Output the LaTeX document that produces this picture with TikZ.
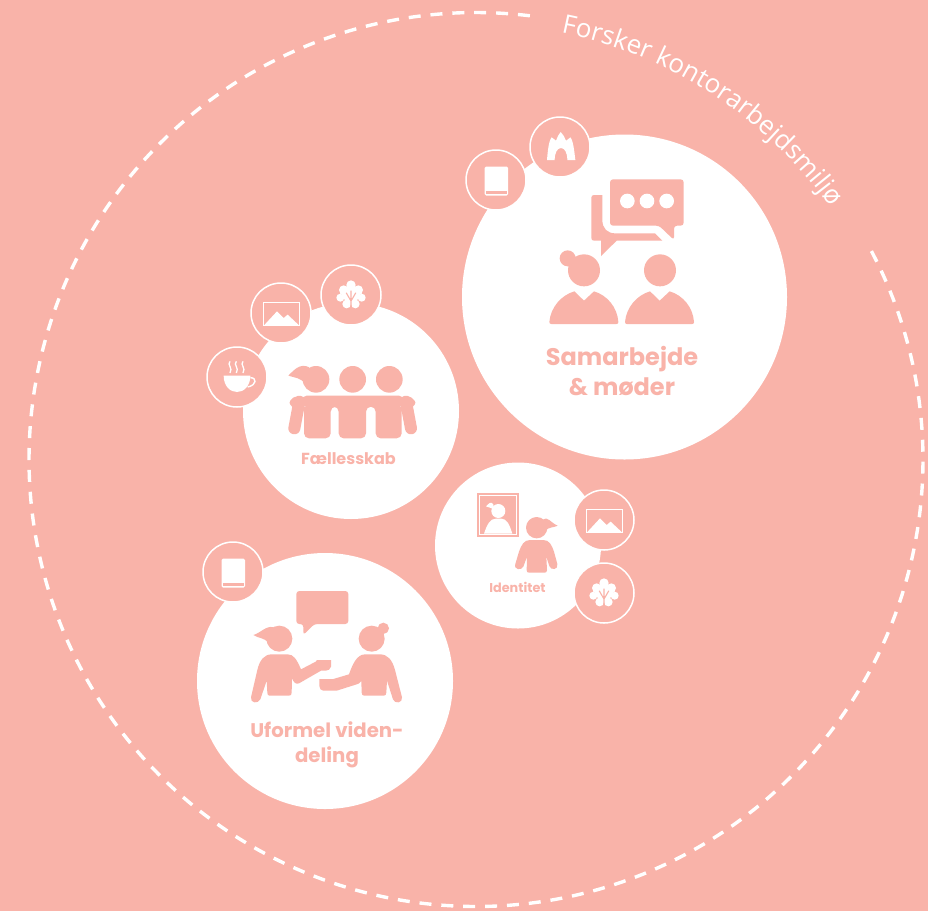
\documentclass[tikz,border=0pt]{standalone}
\usepackage{fontspec}
\usetikzlibrary{decorations.text}
\newfontfamily\labfont{Poppins}
\newfontfamily\ringfont{Open Sans}
\definecolor{peach}{HTML}{F9B3A9}
\tikzset{
  bigdisc/.style={fill=white},
  badge/.style={fill=peach,draw=white,line width=1.5pt},
  ink/.style={fill=peach},
  paper/.style={fill=white},
  lab/.style={font=\labfont\bfseries,text=peach,align=center,inner sep=0pt},
  bookicon/.pic={
    \fill[white,rounded corners=1.5pt] (-11.5,-13.5) rectangle (12,15.5);
    \fill[peach] (-10.5,11) rectangle (11,14.2);
  },
  imageicon/.pic={
    \begin{scope}[scale=1/3]
    \draw[white,line width=1.2pt] (-52,-32) rectangle (56,37);
    \fill[white] (-50,36)--(-12,-5)--(8,15)--(20,5)--(53,36)--cycle;
    \end{scope}
  },
  treeicon/.pic={
    \begin{scope}[scale=1/3]
    \fill[white] (0,-30) circle (14) (-22,-15) circle (14) (22,-15) circle (14)
       (-32,8) circle (12) (32,8) circle (12) (-13,27) circle (13) (13,27) circle (13) (0,0) circle (24);
    \draw[peach,line width=1.1pt,line cap=round] (0,42)--(0,-12) (0,18)--(-14,-6) (0,18)--(14,-6);
    \end{scope}
  },
}
\begin{document}
\begin{tikzpicture}[x=1pt,y=-1pt]
\useasboundingbox (0,0) rectangle (928,911);
\fill[peach] (0,0) rectangle (928,911);
% dashed ring
\draw[white,line width=3.4pt,dash pattern=on 12pt off 9.9pt] plot[domain=387.8:83,samples=240,smooth] ({476+447*cos(\x)},{459.5-447*sin(\x)});
\path[decorate,decoration={text along path,
  text={|\ringfont\fontsize{26}{26}\selectfont\color{white}|Forsker kontorarbejdsmiljø}}]
  (561.2,32.9) .. controls (683.9,57.4) and (790.2,133.7) .. (852.7,242);
% main discs
\fill[bigdisc] (624.5,297) circle (162.5);
\fill[bigdisc] (351,411) circle (108);
\fill[bigdisc] (518,545.5) circle (83);
\fill[bigdisc] (325,681) circle (128);
% badges
\draw[badge] (496,180) circle (30);
\draw[badge] (560,147) circle (30);
\draw[badge] (351,295) circle (30);
\draw[badge] (281,313) circle (30);
\draw[badge] (237,377) circle (30);
\draw[badge] (604,520) circle (30);
\draw[badge] (604,593) circle (30);
\draw[badge] (233,572) circle (30);
% badge icons
\pic at (496,180) {bookicon};
\pic at (233,572) {bookicon};
\pic at (281,313) {imageicon};
\pic at (604,520) {imageicon};
\pic at (351,295) {treeicon};
\pic at (604,593) {treeicon};
% church
\begin{scope}[shift={(460,110)},scale=1/3]
\fill[white] (261,150) .. controls (263,125) and (266,92) .. (275,82)
  .. controls (281,86) and (285,90) .. (288,92) .. controls (292,82) and (296,72) .. (302,66)
  .. controls (309,72) and (314,82) .. (318,92) .. controls (322,90) and (326,86) .. (331,82)
  .. controls (340,92) and (343,125) .. (346,150) -- (322,150)
  .. controls (322,128) and (314,114) .. (303,114) .. controls (292,114) and (284,128) .. (284,150) -- cycle;
\end{scope}
% cup
\begin{scope}[shift={(237,377)},scale=1/3]
\fill[white] (-40,-4)--(40,-4) .. controls (40,28) and (20,45) .. (0,45) .. controls (-20,45) and (-40,28) .. (-40,-4) -- cycle;
\draw[white,line width=1.4pt] (40,2) .. controls (60,2) and (60,24) .. (32,30);
\foreach \s in {-21,-2,18}{
  \draw[white,line width=1.3pt] (\s,-47) .. controls (\s-10,-36) and (\s+10,-28) .. (\s,-12);
}
\end{scope}
% Samarbejde icon
\begin{scope}[shift={(460,110)},scale=1/3]
\path[ink,rounded corners=3pt] (450,208)--(671,208)--(671,347)--(642,347)--(642,390)--(597,347)--(450,347)--cycle;
\fill[white] (502,273) circle (22) (561,273) circle (22) (620,273) circle (22);
\path[ink] (402,255)--(427,255)--(427,330) .. controls (427,355) and (442,370) .. (465,370)--(585,370)--(607,392)--(470,392)--(423,438)--(423,392)--(402,392)
  .. controls (397,392) and (394,389) .. (394,384)--(394,263) .. controls (394,258) and (397,255) .. (402,255) -- cycle;
\fill[ink] (372,481) circle (48) (323,445) circle (24) (600,481) circle (48);
\foreach \d in {0,227}{
  \begin{scope}[shift={(\d,0)}]
  \path[ink] (274,642) .. controls (270,642) and (268,640) .. (268,636) .. controls (272,592) and (303,556) .. (343,544) -- (372,572) -- (402,544)
    .. controls (442,556) and (472,592) .. (475,636) .. controls (475,640) and (473,642) .. (469,642) -- cycle;
  \end{scope}
}
\end{scope}
% Faellesskab icon
\begin{scope}[shift={(200,260)},scale=1/3]
\fill[ink] (348,358) circle (40) (458,358) circle (40) (568,358) circle (40);
\path[ink] (328,322) .. controls (300,308) and (282,330) .. (265,347) .. controls (285,354) and (303,352) .. (315,372) -- cycle;
\path[ink,rounded corners=5pt] (305,407)--(612,407)--(612,440)--(605,440)--(605,535)--(527,535)--(527,440)--(498,440)--(498,535)--(416,535)--(416,440)--(392,440)--(392,535)--(312,535)--(312,440)--(305,440)--cycle;
\draw[peach,line width=12pt,line cap=round] (298,425)--(283,505) (618,425)--(633,505);
\path[ink,rounded corners=3pt] (285,407)--(309,428)--(285,449)--(265,428)--cycle;
\path[ink,rounded corners=3pt] (629,407)--(605,428)--(629,449)--(650,428)--cycle;
\end{scope}
% Identitet icon
\begin{scope}[shift={(430,460)},scale=1/3]
\fill[ink] (142,100) rectangle (266,230);
\draw[white,line width=1pt] (149,107) rectangle (259,223);
\fill[white] (205,153) circle (21);
\fill[white] (190,133) .. controls (183,122) and (175,132) .. (168,139) .. controls (176,143) and (184,142) .. (192,150) -- cycle;
\fill[white] (162,221) .. controls (172,192) and (180,176) .. (198,176) -- (214,176) .. controls (230,176) and (238,192) .. (247,221) -- cycle;
\fill[ink] (320,203) circle (32);
\path[ink] (340,178) .. controls (352,168) and (362,188) .. (383,197) .. controls (372,203) and (358,200) .. (345,212) -- cycle;
\path[ink] (300,240) -- (340,240) .. controls (358,240) and (365,255) .. (372,275) -- (382,312)
  .. controls (386,330) and (362,332) .. (358,318) -- (349,290) -- (351,330) .. controls (351,336) and (348,338) .. (344,338) -- (298,338) .. controls (292,338) and (290,336) .. (290,330) -- (291,290) -- (280,320)
  .. controls (275,332) and (250,330) .. (256,312) -- (267,275) .. controls (274,255) and (282,240) .. (300,240) -- cycle;
\end{scope}
% Uformel icon
\begin{scope}[shift={(195,540)},scale=1/3]
\path[ink,rounded corners=3pt] (304,153)--(460,153)--(460,252)--(358,252)--(325,285)--(325,252)--(304,252)--cycle;
\fill[ink] (253,296) circle (39) (530,296) circle (39) (565,265) circle (17);
\path[ink] (235,262) .. controls (215,255) and (195,280) .. (175,285) .. controls (190,296) and (205,290) .. (222,310) -- cycle;
\path[ink] (230,343)--(278,343) .. controls (296,343) and (305,358) .. (318,388)--(362,365)--(366,360)--(408,360)--(408,380) .. controls (406,388) and (400,392) .. (392,392)--(378,392)--(312,430)
  .. controls (304,434) and (296,428) .. (291,415)--(290,458) .. controls (290,464) and (287,467) .. (282,467)--(224,467) .. controls (219,467) and (217,464) .. (217,458)--(215,422)--(196,478)
  .. controls (190,492) and (165,490) .. (168,472)--(187,390) .. controls (194,360) and (208,343) .. (230,343)--cycle;
\path[ink] (510,343)--(555,343) .. controls (578,343) and (592,360) .. (600,390)--(621,472)
  .. controls (624,490) and (598,492) .. (594,478)--(576,422)--(574,458) .. controls (574,464) and (571,467) .. (566,467)--(508,467) .. controls (503,467) and (500,464) .. (500,458)--(499,423)
  .. controls (494,430) and (490,432) .. (485,433)--(425,452)--(385,452) .. controls (378,452) and (373,446) .. (373,438)--(373,417)--(415,417)--(462,403) .. controls (472,375) and (485,343) .. (510,343)--cycle;
\end{scope}
% labels
\node[lab,font=\labfont\bfseries\fontsize{24}{30}\selectfont] (samarbejde) at (622,371) {Samarbejde\\\& møder};
\node[lab,font=\labfont\bfseries\fontsize{16}{18}\selectfont] (faelles) at (348.5,459) {Fællesskab};
\node[lab,font=\labfont\bfseries\fontsize{12.8}{15}\selectfont] (identitet) at (517.5,587) {Identitet};
\node[lab,font=\labfont\bfseries\fontsize{19.7}{25}\selectfont] (uformel) at (327,745) {Uformel viden-\\deling};
\end{tikzpicture}
\end{document}
